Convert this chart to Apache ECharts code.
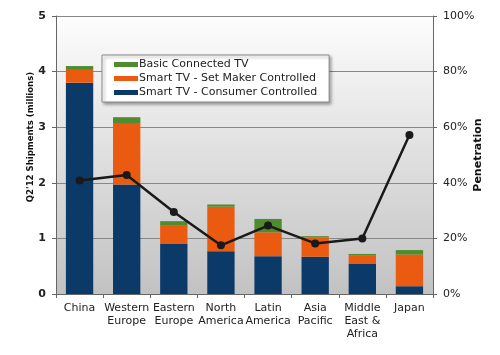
<!DOCTYPE html>
<html><head><meta charset="utf-8">
<script src="https://cdn.jsdelivr.net/npm/echarts@6/dist/echarts.min.js"></script>
<style>html,body{margin:0;padding:0;background:#fff}#c{width:500px;height:355px}</style>
</head><body><div id="c"></div>
<script>
var categories = ['China', 'Western\nEurope', 'Eastern\nEurope', 'North\nAmerica', 'Latin\nAmerica', 'Asia\nPacific', 'Middle\nEast &\nAfrica', 'Japan'];
var consumerControlled = [3.80, 1.97, 0.91, 0.77, 0.68, 0.67, 0.54, 0.14];
var setMakerControlled = [0.23, 1.09, 0.33, 0.80, 0.43, 0.35, 0.15, 0.57];
var basicConnected = [0.07, 0.12, 0.07, 0.04, 0.24, 0.02, 0.03, 0.08];
var penetration = [40.8, 42.8, 29.5, 17.5, 24.6, 18.2, 20.0, 57.2];
var leftTicks = [0, 1, 2, 3, 4, 5];
var rightTicks = [0, 20, 40, 60, 80, 100];

var font = 'DejaVu Sans';
var chart = echarts.init(document.getElementById('c'));
chart.setOption({
  animation: false,
  textStyle: { fontFamily: font },
  grid: {
    left: 56, right: 67, top: 16, bottom: 61, show: true, borderWidth: 0,
    containLabel: false, outerBoundsMode: 'none',
    backgroundColor: { type: 'linear', x: 0, y: 0, x2: 0, y2: 1,
      colorStops: [{ offset: 0, color: '#fdfdfd' }, { offset: 1, color: '#c2c2c2' }] }
  },
  legend: {
    orient: 'vertical', left: 102, top: 55, padding: [4, 12, 4, 12],
    itemWidth: 24, itemHeight: 5, itemGap: 3,
    backgroundColor: '#fff', borderColor: '#888', borderWidth: 1,
    shadowColor: 'rgba(0,0,0,0.35)', shadowBlur: 3, shadowOffsetX: 2, shadowOffsetY: 2,
    textStyle: { fontFamily: font, fontSize: 11, color: '#222', padding: [0, 0, 0, -4] },
    data: [
      { name: 'Basic Connected TV', icon: 'rect' },
      { name: 'Smart TV - Set Maker Controlled', icon: 'rect' },
      { name: 'Smart TV - Consumer Controlled', icon: 'rect' }
    ]
  },
  xAxis: {
    type: 'category', data: categories,
    axisLine: { lineStyle: { color: '#666' } },
    axisTick: { show: true, alignWithLabel: false, length: 4, lineStyle: { color: '#666' } },
    axisLabel: { fontFamily: font, fontSize: 11, color: '#222', lineHeight: 13, margin: 8, interval: 0 }
  },
  yAxis: [{
    type: 'value', min: 0, max: 5, interval: 1,
    name: "Q2'12 Shipments (millions)", nameLocation: 'middle', nameGap: 20, nameMoveOverlap: false,
    nameTextStyle: { fontFamily: 'DejaVu Sans Condensed', fontSize: 9.5, fontWeight: 'bold', color: '#111',
      padding: [0, 0, 0, 36] },
    axisLine: { show: true, lineStyle: { color: '#666' } },
    axisTick: { show: true, length: 4, lineStyle: { color: '#666' } },
    axisLabel: { fontFamily: font, fontSize: 11, fontWeight: 'bold', color: '#222', margin: 10,
      formatter: function (v) { return leftTicks.indexOf(v) >= 0 ? String(v) : ''; } },
    splitLine: { lineStyle: { color: '#888', width: 1 } }
  }, {
    type: 'value', min: 0, max: 100, interval: 20,
    name: 'Penetration', nameLocation: 'middle', nameGap: 40, nameMoveOverlap: false,
    nameTextStyle: { fontFamily: font, fontSize: 11, fontWeight: 'bold', color: '#111' },
    axisLine: { show: true, lineStyle: { color: '#666' } },
    axisTick: { show: true, length: 4, lineStyle: { color: '#666' } },
    axisLabel: { fontFamily: font, fontSize: 11, color: '#222', margin: 10,
      formatter: function (v) { return rightTicks.indexOf(v) >= 0 ? v + '%' : ''; } },
    splitLine: { show: false }
  }],
  series: [
    { name: 'Smart TV - Consumer Controlled', type: 'bar', stack: 's', data: consumerControlled,
      barWidth: '58%', itemStyle: { color: '#0c3a68' } },
    { name: 'Smart TV - Set Maker Controlled', type: 'bar', stack: 's', data: setMakerControlled,
      itemStyle: { color: '#ea5a10' } },
    { name: 'Basic Connected TV', type: 'bar', stack: 's', data: basicConnected,
      itemStyle: { color: '#4f8c2e' } },
    { name: 'Penetration', type: 'line', yAxisIndex: 1, data: penetration,
      symbol: 'circle', symbolSize: 8, z: 5,
      lineStyle: { color: '#1a1a1a', width: 2.5 }, itemStyle: { color: '#1a1a1a' } }
  ]
});
</script></body></html>
